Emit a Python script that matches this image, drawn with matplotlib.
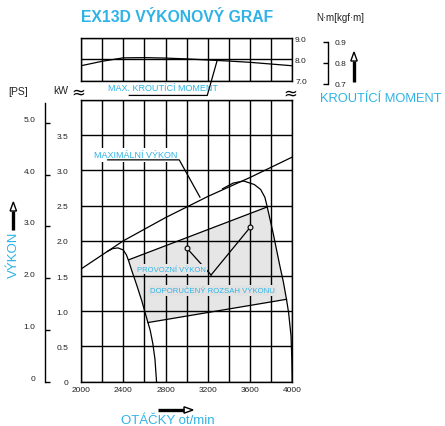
import numpy as np
import matplotlib
matplotlib.use('Agg')
import matplotlib.pyplot as plt
from matplotlib.patches import Polygon

plt.rcParams['font.family'] = ['Liberation Sans', 'DejaVu Sans']

# data
rpm_ticks = [2000, 2400, 2800, 3200, 3600, 4000]
kw_ticks = [0, 0.5, 1.0, 1.5, 2.0, 2.5, 3.0, 3.5]
ps_ticks = [0, 1.0, 2.0, 3.0, 4.0, 5.0]
nm_ticks = [7.0, 8.0, 9.0]
kgf_ticks = [0.7, 0.8, 0.9]

torque_rpm = [2000, 2200, 2400, 2600, 2800, 3000, 3200, 3400, 3600, 3800, 4000]
torque_nm = [7.70, 7.91, 8.07, 8.08, 8.06, 8.02, 7.97, 7.92, 7.86, 7.78, 7.70]

max_rpm = [2000, 2200, 2400, 2800, 3200, 3600, 4000]
max_kw = [1.60, 1.80, 2.00, 2.33, 2.63, 2.90, 3.19]

gov1_rpm = [2250, 2300, 2350, 2400, 2430, 2450, 2480, 2530, 2575, 2620, 2655, 2680, 2700, 2715]
gov1_kw = [1.85, 1.89, 1.90, 1.87, 1.80, 1.72, 1.58, 1.36, 1.15, 0.91, 0.73, 0.54, 0.32, 0.0]

gov2_rpm = [3340, 3440, 3540, 3640, 3700, 3740, 3760, 3790, 3820, 3850, 3880, 3915, 3945, 3965, 3988, 3996, 4000]
gov2_kw = [2.74, 2.82, 2.85, 2.80, 2.73, 2.62, 2.50, 2.30, 2.10, 1.88, 1.66, 1.42, 1.17, 0.98, 0.65, 0.30, 0.0]

range_top_rpm = [2450, 3760]
range_top_kw = [1.73, 2.48]
range_bot_rpm = [2635, 3945]
range_bot_kw = [0.84, 1.17]

op_rpm = [3000, 3600]
op_kw = [1.90, 2.19]

CYAN = '#2fb3e6'
W, H = 445, 427


def rect(x0, y0, x1, y1):
    return [x0 / W, 1 - y1 / H, (x1 - x0) / W, (y1 - y0) / H]


def fp(x, y):
    return (x / W, 1 - y / H)


fig = plt.figure(figsize=(W / 100, H / 100), dpi=100)

# kW axes (main grid)
ax = fig.add_axes(rect(81, 101, 292.3, 382.7))
ax.set_xlim(2000, 4000)
ax.set_ylim(0, 4.0)
ax.set_xticks(np.arange(2000, 4001, 200))
ax.set_xticklabels([str(v) if v in rpm_ticks else '' for v in range(2000, 4001, 200)])
ax.set_yticks(np.arange(0, 4.01, 0.5))
ax.set_yticklabels(['0' if v == 0 else '%.1f' % v for v in kw_ticks] + [''])
ax.tick_params(length=0, labelsize=6, colors='#222222')
ax.tick_params(axis='x', pad=3)
ax.tick_params(axis='y', pad=9)
ax.grid(True, color='black', lw=1.0, zorder=1)
for s in ax.spines.values():
    s.set_linewidth(1.0)
ax.set_axisbelow(True)

# torque axes (top strip)
axt = fig.add_axes(rect(81, 39, 292.3, 81.7))
axt.set_xlim(2000, 4000)
axt.set_ylim(7.0, 9.0)
axt.set_xticks(np.arange(2000, 4001, 200))
axt.set_xticklabels([])
axt.set_yticks(nm_ticks)
axt.set_yticklabels(['%.1f' % v for v in nm_ticks])
axt.yaxis.tick_right()
axt.tick_params(length=0, labelsize=6, colors='#222222', pad=2)
axt.grid(True, color='black', lw=1.0)
for s in axt.spines.values():
    s.set_linewidth(1.0)

# gray recommended range
top_line = list(zip(range_top_rpm, range_top_kw))
right_side = [(r, k) for r, k in zip(gov2_rpm, gov2_kw) if range_top_rpm[1] < r < range_bot_rpm[1]]
bot_line = list(zip(range_bot_rpm[::-1], range_bot_kw[::-1]))
left_side = [(r, k) for r, k in zip(gov1_rpm, gov1_kw) if range_top_rpm[0] < r < range_bot_rpm[0]][::-1]
poly = np.array(top_line + right_side + bot_line + left_side)
ax.fill(poly[:, 0], poly[:, 1], color='#e6e6e6', zorder=0.5, lw=0)
ax.plot(range_top_rpm, range_top_kw, color='black', lw=0.9, zorder=3)
ax.plot(range_bot_rpm, range_bot_kw, color='black', lw=0.9, zorder=3)

# curves
ax.plot(max_rpm, max_kw, color='black', lw=0.9, zorder=3)
ax.plot(gov1_rpm, gov1_kw, color='black', lw=0.9, zorder=3)
ax.plot(gov2_rpm, gov2_kw, color='black', lw=0.9, zorder=3)
axt.plot(torque_rpm, torque_nm, color='black', lw=0.9, zorder=3)

# operating points and leaders
jx, jy = 3231, 1.515
for r, k in zip(op_rpm, op_kw):
    ax.plot([jx, r], [jy, k], color='black', lw=0.9, zorder=3)
ax.plot(op_rpm, op_kw, 'o', ms=3.5, mfc='#e6e6e6', mec='black', mew=0.8, zorder=4)

ax.text(2858, 1.60, 'PROVOZNÍ VÝKON', color=CYAN, fontsize=5.5, ha='center', va='center', zorder=5,
        bbox=dict(fc='#e6e6e6', ec='none', pad=1))
ax.text(3245, 1.30, 'DOPORUČENÝ ROZSAH VÝKONU', color=CYAN, fontsize=5.6, ha='center', va='center', zorder=5,
        bbox=dict(fc='#e2e2e2', ec='none', pad=1.5))

ax.text(2514, 3.22, 'MAXIMÁLNÍ VÝKON', color=CYAN, fontsize=6.5, ha='center', va='center', zorder=5,
        bbox=dict(fc='white', ec='none', pad=1.5))
ax.plot([2253, 2930, 3126], [3.15, 3.15, 2.62], color='black', lw=0.9, zorder=6)

axt.text(2779, 6.68, 'MAX. KROUTÍCÍ MOMENT', color=CYAN, fontsize=6.5, ha='center', va='center', clip_on=False)
axt.plot([2457, 3195, 3290], [6.31, 6.31, 7.97], color='black', lw=0.9, clip_on=False, zorder=6)

# PS axis
axp = fig.add_axes(rect(45, 101, 45.1, 382.7))
axp.set_ylim(0, 4.0 / 0.7355)
axp.set_xticks([])
for side in ['top', 'right', 'bottom']:
    axp.spines[side].set_visible(False)
axp.patch.set_visible(False)
axp.spines['left'].set_bounds(0, 5.38)
axp.spines['left'].set_linewidth(1.0)
axp.set_yticks(ps_ticks)
axp.set_yticklabels(['0' if v == 0 else '%.1f' % v for v in ps_ticks])
axp.tick_params(axis='y', direction='in', length=3.6, width=1.0, labelsize=6, colors='black', pad=7)
for t in axp.get_yticklabels():
    t.set_va('bottom')
    t.set_color('#222222')

# kgf-m axis
g = 9.80665
axk = fig.add_axes(rect(328, 39, 328.1, 90))
axk.set_ylim((9 - 51 / 21.35) / g, 9 / g)
axk.set_xticks([])
for side in ['top', 'right', 'bottom']:
    axk.spines[side].set_visible(False)
axk.patch.set_visible(False)
axk.spines['left'].set_bounds(0.7, 0.9)
axk.spines['left'].set_linewidth(1.0)
axk.set_yticks(kgf_ticks)
axk.set_yticklabels(['%.1f' % v for v in kgf_ticks])
axk.tick_params(axis='y', left=True, right=False, labelleft=False, labelright=True,
                direction='out', length=3.6, width=1.0, labelsize=6, pad=1)
for t in axk.get_yticklabels():
    t.set_color('#222222')

# texts
fig.text(*fp(177.5, 17), 'EX13D VÝKONOVÝ GRAF', color=CYAN, fontsize=11.3, fontweight='bold', ha='center', va='center')
fig.text(*fp(340, 18), 'N·m[kgf·m]', fontsize=7, ha='center', va='center', color='#222222')
fig.text(*fp(18, 92), '[PS]', fontsize=7.5, ha='center', va='center', color='#222222')
fig.text(*fp(61, 91), 'kW', fontsize=7.5, ha='center', va='center', color='#222222')
fig.text(*fp(78, 92), '≈', fontsize=12, ha='center', va='center', family='DejaVu Sans')
fig.text(*fp(290, 93), '≈', fontsize=12, ha='center', va='center', family='DejaVu Sans')
fig.text(*fp(320, 99), 'KROUTÍCÍ MOMENT', color=CYAN, fontsize=9.3, ha='left', va='center')
fig.text(*fp(13.5, 255), 'VÝKON', color=CYAN, fontsize=9.5, rotation=90, ha='center', va='center')
fig.text(*fp(167.5, 421), 'OTÁČKY ot/min', color=CYAN, fontsize=9.5, ha='center', va='center')


def arrow(tail, tip, head=9, half=3.2):
    t = np.array(tail, float)
    p = np.array(tip, float)
    d = (p - t) / np.linalg.norm(p - t)
    n = np.array([-d[1], d[0]])
    base = p - d * head
    fig.add_artist(plt.Line2D([fp(*t)[0], fp(*base)[0]], [fp(*t)[1], fp(*base)[1]],
                              color='black', lw=2.4, solid_capstyle='butt', transform=fig.transFigure))
    pts = [fp(*p), fp(*(base + n * half)), fp(*(base - n * half))]
    fig.add_artist(Polygon(pts, closed=True, transform=fig.transFigure,
                           fc='white', ec='black', lw=1.0))


arrow((13.3, 231), (13.3, 203))
arrow((354, 83), (354, 53))
arrow((158, 411), (193, 411))

fig.savefig('out.png', dpi=100)
